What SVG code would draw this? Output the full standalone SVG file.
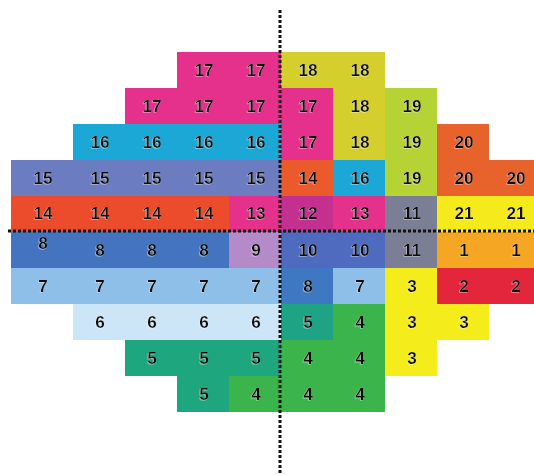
<svg xmlns="http://www.w3.org/2000/svg" width="534" height="475" viewBox="0 0 534 475">
<defs>
<filter id="sh" x="-20%" y="-20%" width="140%" height="140%">
<feDropShadow dx="-0.7" dy="0.7" stdDeviation="0.3" flood-color="#ffffff" flood-opacity="0.5"/>
</filter>
<style>
text{font-family:"Liberation Sans",Arial,sans-serif;font-weight:bold;font-size:17px;fill:#111111;text-anchor:middle;filter:url(#sh)}
.dot{stroke:#111;stroke-width:3;stroke-dasharray:3 2;fill:none}
</style>
</defs>
<rect width="534" height="475" fill="#ffffff"/>
<g id="regions">
<rect x="177" y="52" width="104" height="36" fill="#e5318b"/>
<rect x="281" y="52" width="104" height="36" fill="#d5cf2d"/>
<rect x="125" y="88" width="208" height="36" fill="#e5318b"/>
<rect x="333" y="88" width="52" height="36" fill="#d5cf2d"/>
<rect x="385" y="88" width="52" height="36" fill="#b6d336"/>
<rect x="73" y="124" width="208" height="36" fill="#1ba8d6"/>
<rect x="281" y="124" width="52" height="36" fill="#e5318b"/>
<rect x="333" y="124" width="52" height="36" fill="#d5cf2d"/>
<rect x="385" y="124" width="52" height="36" fill="#b6d336"/>
<rect x="437" y="124" width="52" height="36" fill="#e8622c"/>
<rect x="11" y="160" width="270" height="36" fill="#6b7dc0"/>
<rect x="281" y="160" width="52" height="36" fill="#ea5a2b"/>
<rect x="333" y="160" width="52" height="36" fill="#1ba8d6"/>
<rect x="385" y="160" width="52" height="36" fill="#b6d336"/>
<rect x="437" y="160" width="97" height="36" fill="#e8622c"/>
<rect x="11" y="196" width="218" height="36" fill="#ec4b2c"/>
<rect x="229" y="196" width="52" height="36" fill="#e5318b"/>
<rect x="281" y="196" width="52" height="36" fill="#c4308f"/>
<rect x="333" y="196" width="52" height="36" fill="#e5318b"/>
<rect x="385" y="196" width="52" height="36" fill="#7b7f95"/>
<rect x="437" y="196" width="97" height="36" fill="#f4ea1c"/>
<rect x="11" y="232" width="218" height="36" fill="#4473bf"/>
<rect x="229" y="232" width="52" height="36" fill="#b48bc8"/>
<rect x="281" y="232" width="104" height="36" fill="#4e6bbf"/>
<rect x="385" y="232" width="52" height="36" fill="#7b7f95"/>
<rect x="437" y="232" width="97" height="36" fill="#f5a623"/>
<rect x="11" y="268" width="270" height="36" fill="#8ebfe9"/>
<rect x="281" y="268" width="52" height="36" fill="#3f78c2"/>
<rect x="333" y="268" width="52" height="36" fill="#8ebfe9"/>
<rect x="385" y="268" width="52" height="36" fill="#f5ec1c"/>
<rect x="437" y="268" width="97" height="36" fill="#e3263b"/>
<rect x="73" y="304" width="208" height="36" fill="#cde6f7"/>
<rect x="281" y="304" width="52" height="36" fill="#1ea384"/>
<rect x="333" y="304" width="52" height="36" fill="#3bb44b"/>
<rect x="385" y="304" width="104" height="36" fill="#f5ec1c"/>
<rect x="125" y="340" width="156" height="36" fill="#1ea67f"/>
<rect x="281" y="340" width="104" height="36" fill="#3bb44b"/>
<rect x="385" y="340" width="52" height="36" fill="#f5ec1c"/>
<rect x="177" y="376" width="52" height="36" fill="#1ea67f"/>
<rect x="229" y="376" width="156" height="36" fill="#3bb44b"/>
</g>
<g id="labels">
<text x="204" y="76">17</text><text x="256" y="76">17</text><text x="308" y="76">18</text><text x="360" y="76">18</text>
<text x="152" y="112">17</text><text x="204" y="112">17</text><text x="256" y="112">17</text><text x="308" y="112">17</text><text x="360" y="112">18</text><text x="412" y="112">19</text>
<text x="100" y="148">16</text><text x="152" y="148">16</text><text x="204" y="148">16</text><text x="256" y="148">16</text><text x="308" y="148">17</text><text x="360" y="148">18</text><text x="412" y="148">19</text><text x="464" y="148">20</text>
<text x="43" y="184">15</text><text x="100" y="184">15</text><text x="152" y="184">15</text><text x="204" y="184">15</text><text x="256" y="184">15</text><text x="308" y="184">14</text><text x="360" y="184">16</text><text x="412" y="184">19</text><text x="464" y="184">20</text><text x="516" y="184">20</text>
<text x="43" y="219">14</text><text x="100" y="219">14</text><text x="152" y="219">14</text><text x="204" y="219">14</text><text x="256" y="219">13</text><text x="308" y="219">12</text><text x="360" y="219">13</text><text x="412" y="219">11</text><text x="464" y="219">21</text><text x="516" y="219">21</text>
<text x="43" y="249">8</text><text x="100" y="256">8</text><text x="152" y="256">8</text><text x="204" y="256">8</text><text x="256" y="256">9</text><text x="308" y="256">10</text><text x="360" y="256">10</text><text x="412" y="256">11</text><text x="464" y="256">1</text><text x="516" y="256">1</text>
<text x="43" y="292">7</text><text x="100" y="292">7</text><text x="152" y="292">7</text><text x="204" y="292">7</text><text x="256" y="292">7</text><text x="308" y="292">8</text><text x="360" y="292">7</text><text x="412" y="292">3</text><text x="464" y="292">2</text><text x="516" y="292">2</text>
<text x="100" y="328">6</text><text x="152" y="328">6</text><text x="204" y="328">6</text><text x="256" y="328">6</text><text x="308" y="328">5</text><text x="360" y="328">4</text><text x="412" y="328">3</text><text x="464" y="328">3</text>
<text x="152" y="364">5</text><text x="204" y="364">5</text><text x="256" y="364">5</text><text x="308" y="364">4</text><text x="360" y="364">4</text><text x="412" y="364">3</text>
<text x="204" y="400">5</text><text x="256" y="400">4</text><text x="308" y="400">4</text><text x="360" y="400">4</text>
</g>
<g id="connectors">
<line class="dot" x1="280" y1="10" x2="280" y2="475"/>
<line class="dot" x1="8" y1="231" x2="534" y2="231"/>
</g>
</svg>
